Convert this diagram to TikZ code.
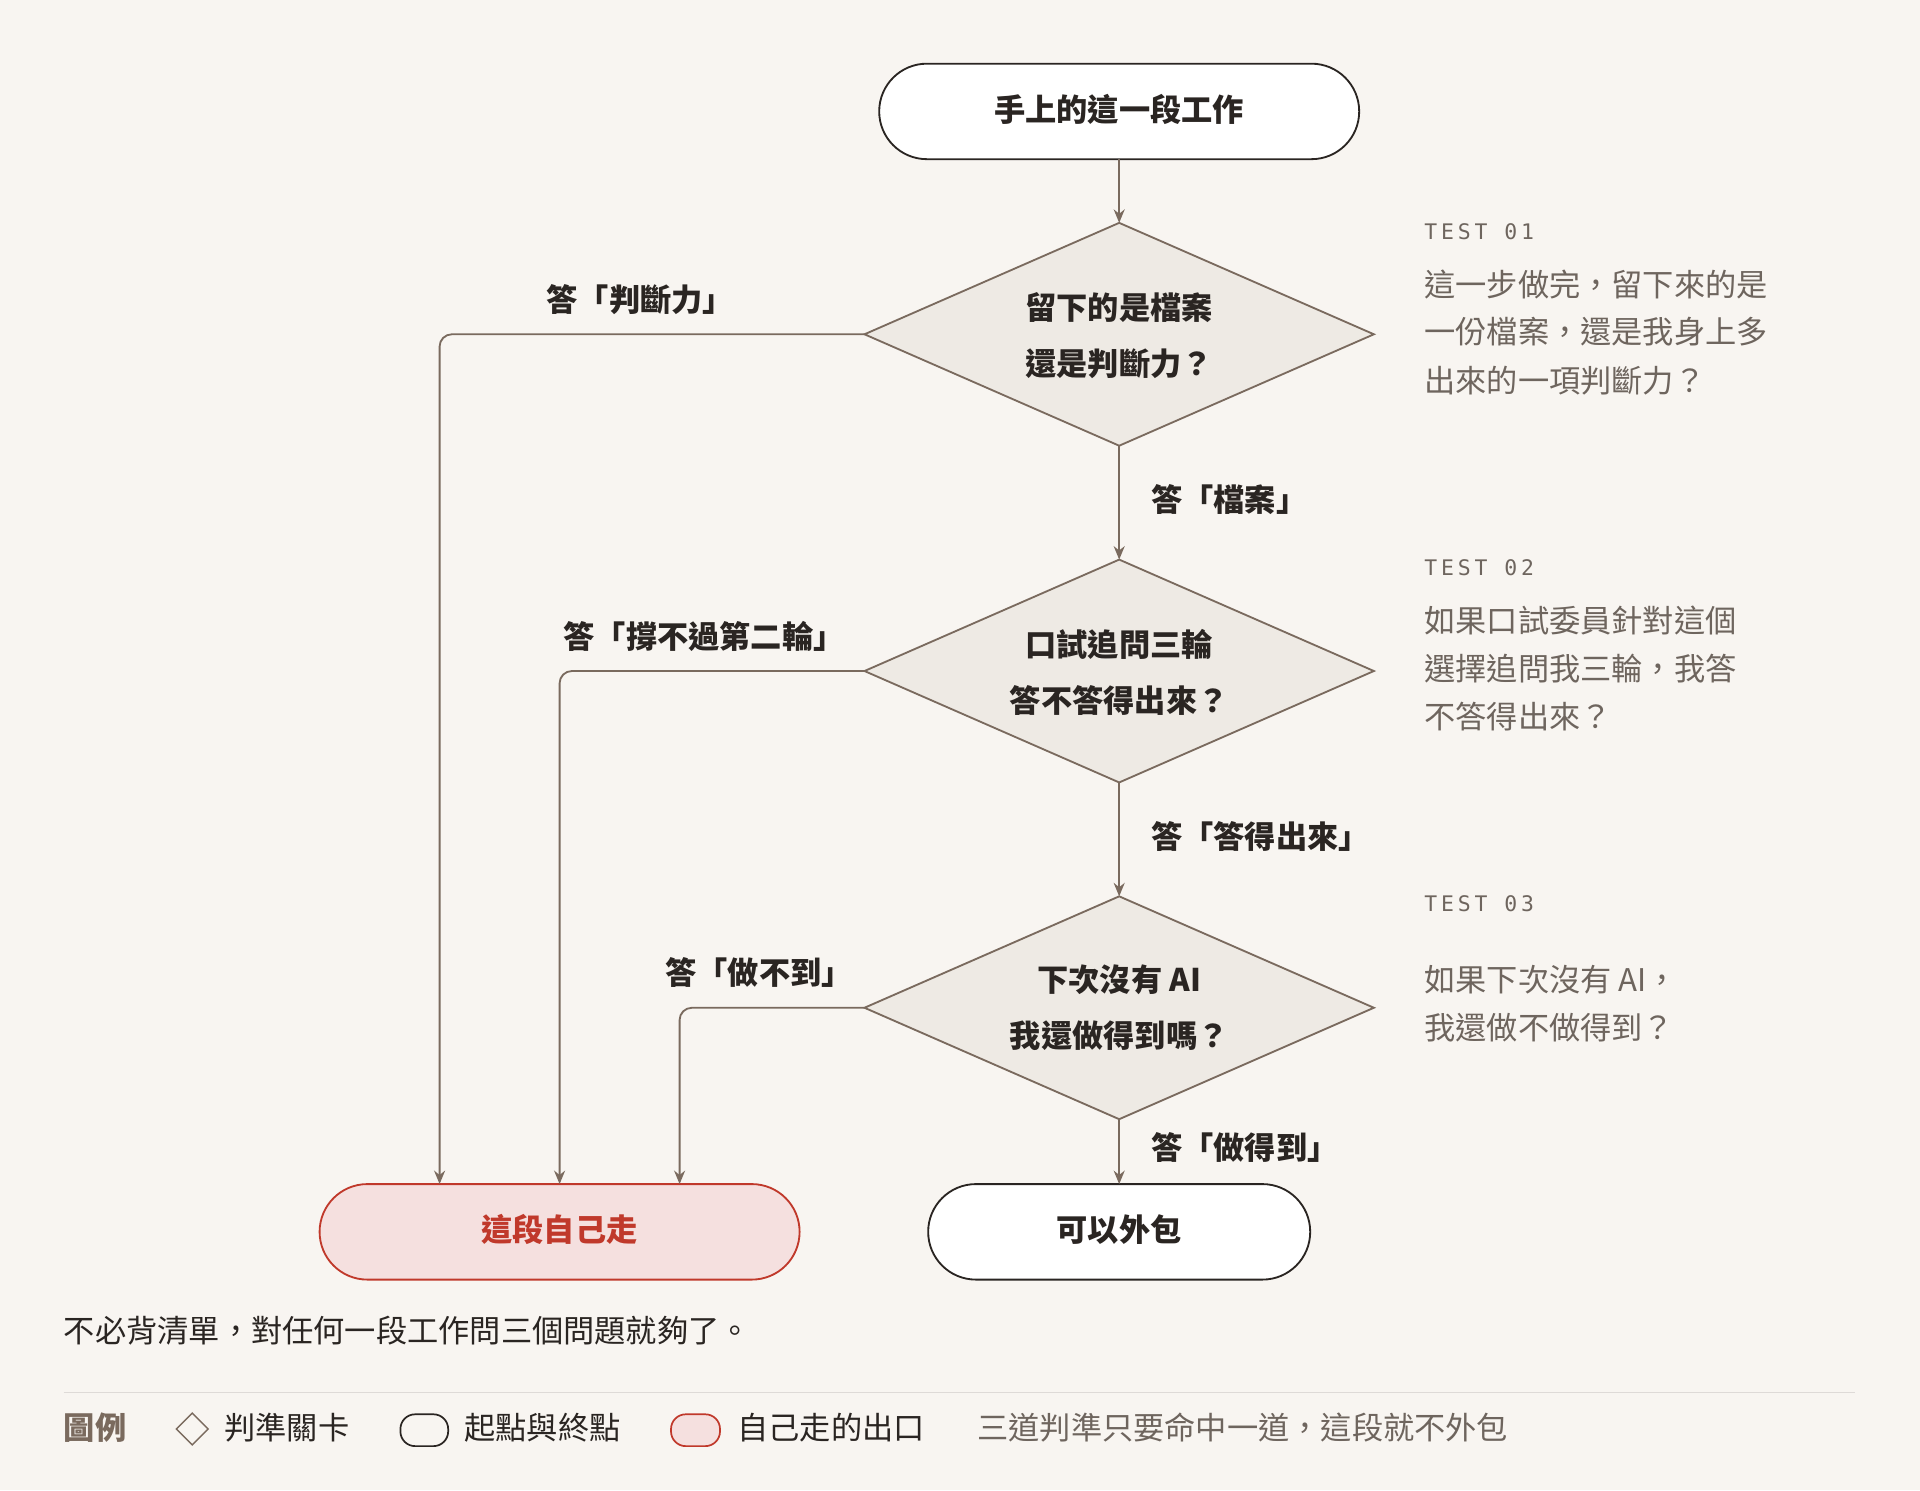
\documentclass[tikz,border=0pt]{standalone}
\usepackage{fontspec}
\setmainfont{Noto Sans CJK TC}
\newfontfamily\monof[LetterSpace=18]{DejaVu Sans Mono}
\usetikzlibrary{arrows.meta,shapes.geometric}
\definecolor{bg}{HTML}{F8F5F1}
\definecolor{ln}{HTML}{7A6A5E}
\definecolor{dfill}{HTML}{EEEAE4}
\definecolor{txt}{HTML}{2A2522}
\definecolor{gr}{HTML}{6E655E}
\definecolor{rd}{HTML}{C0392B}
\definecolor{rfill}{HTML}{F5E0DF}
\begin{document}
\begin{tikzpicture}[x=1pt,y=-1pt,
  term/.style={draw=txt,line width=1.5pt,fill=white,rounded corners=39pt,text=txt},
  dia/.style={draw=ln,line width=1.5pt,fill=dfill},
  arr/.style={draw=ln,line width=1.5pt,-{Stealth[length=11pt,width=9pt]},rounded corners=10pt},
  lab/.style={font=\fontsize{25.5}{28}\selectfont\bfseries,text=txt,inner sep=0pt},
  side/.style={font=\fontsize{25.5}{28}\selectfont,text=gr,anchor=west,inner sep=0pt},
  tst/.style={font=\fontsize{17.5}{20}\selectfont\monof,text=gr,anchor=west,inner sep=0pt}]
\fill[bg] (0,0) rectangle (1568,1217);
\useasboundingbox (0,0) rectangle (1568,1217);
% terminals
\draw[term] (718,52) rectangle (1110,130);
\node[lab] (start) at (914,89) {手上的這一段工作};
\coordinate (sb) at (914,130);
\draw[term,draw=rd,fill=rfill] (261,967) rectangle (653,1045);
\node[lab,text=rd] (self) at (457,1004) {這段自己走};
\draw[term] (758,967) rectangle (1070,1045);
\node[lab] (out) at (914,1004) {可以外包};
% diamonds
\foreach \n/\y in {d1/273,d2/548,d3/823}{
  \draw[dia] (706,\y) -- (914,\y-91) -- (1122,\y) -- (914,\y+91) -- cycle;
  \coordinate (\n t) at (914,\y-91);
  \coordinate (\n b) at (914,\y+91);
  \coordinate (\n l) at (706,\y);
}
\node[lab] (d1a) at (914,251) {留下的是檔案};
\node[lab] (d1c) at (914,297) {還是判斷力？};
\node[lab] (d2a) at (914,526) {口試追問三輪};
\node[lab] (d2c) at (914,572) {答不答得出來？};
\node[lab] (d3a) at (914,800) {下次沒有 AI};
\node[lab] (d3c) at (914,846) {我還做得到嗎？};
% arrows
\draw[arr] (sb) -- (d1t);
\draw[arr] (d1b) -- (d2t);
\draw[arr] (d2b) -- (d3t);
\draw[arr] (d3b) -- (914,967);
\draw[arr] (d1l) -- (359,273) -- (359,967);
\draw[arr] (d2l) -- (457,548) -- (457,967);
\draw[arr] (d3l) -- (555,823) -- (555,967);
\node[lab,anchor=west] (l1) at (940,408) {答「檔案」};
\node[lab,anchor=west] (l2) at (940,683) {答「答得出來」};
\node[lab,anchor=west] (l3) at (940,937) {答「做得到」};
\node[lab] (l4) at (523,245) {答「判斷力」};
\node[lab] (l5) at (575,520) {答「撐不過第二輪」};
\node[lab] (l6) at (620,794) {答「做不到」};
% side notes
\node[tst] (t1) at (1163,189) {TEST 01};
\node[side] (s1a) at (1163,232) {這一步做完，留下來的是};
\node[side] (s1b) at (1163,271) {一份檔案，還是我身上多};
\node[side] (s1c) at (1163,311) {出來的一項判斷力？};
\node[tst] (t2) at (1163,464) {TEST 02};
\node[side] (s2a) at (1163,507) {如果口試委員針對這個};
\node[side] (s2b) at (1163,546) {選擇追問我三輪，我答};
\node[side] (s2c) at (1163,585) {不答得出來？};
\node[tst] (t3) at (1163,738) {TEST 03};
\node[side] (s3a) at (1163,800) {如果下次沒有 AI，};
\node[side] (s3b) at (1163,839) {我還做不做得到？};
% footer
\node[side,text=txt] (ft) at (52,1087) {不必背清單，對任何一段工作問三個問題就夠了。};
\draw[line width=1pt,draw=ln!25] (52,1137) -- (1515,1137);
\node[side,text=ln,font=\fontsize{25.5}{28}\selectfont\bfseries] (lg) at (52,1166) {圖例};
\draw[line width=1.2pt,draw=ln] (157,1154) -- (170,1167) -- (157,1180) -- (144,1167) -- cycle;
\node[side,text=txt] (lg1) at (183,1166) {判準關卡};
\draw[line width=1.4pt,draw=txt,rounded corners=12pt] (327,1155) rectangle (366,1181);
\node[side,text=txt] (lg2) at (379,1166) {起點與終點};
\draw[line width=1.4pt,draw=rd,fill=rfill,rounded corners=12pt] (548,1155) rectangle (588,1181);
\node[side,text=txt] (lg3) at (602,1166) {自己走的出口};
\node[side] (lg4) at (798,1166) {三道判準只要命中一道，這段就不外包};
\end{tikzpicture}
\end{document}
